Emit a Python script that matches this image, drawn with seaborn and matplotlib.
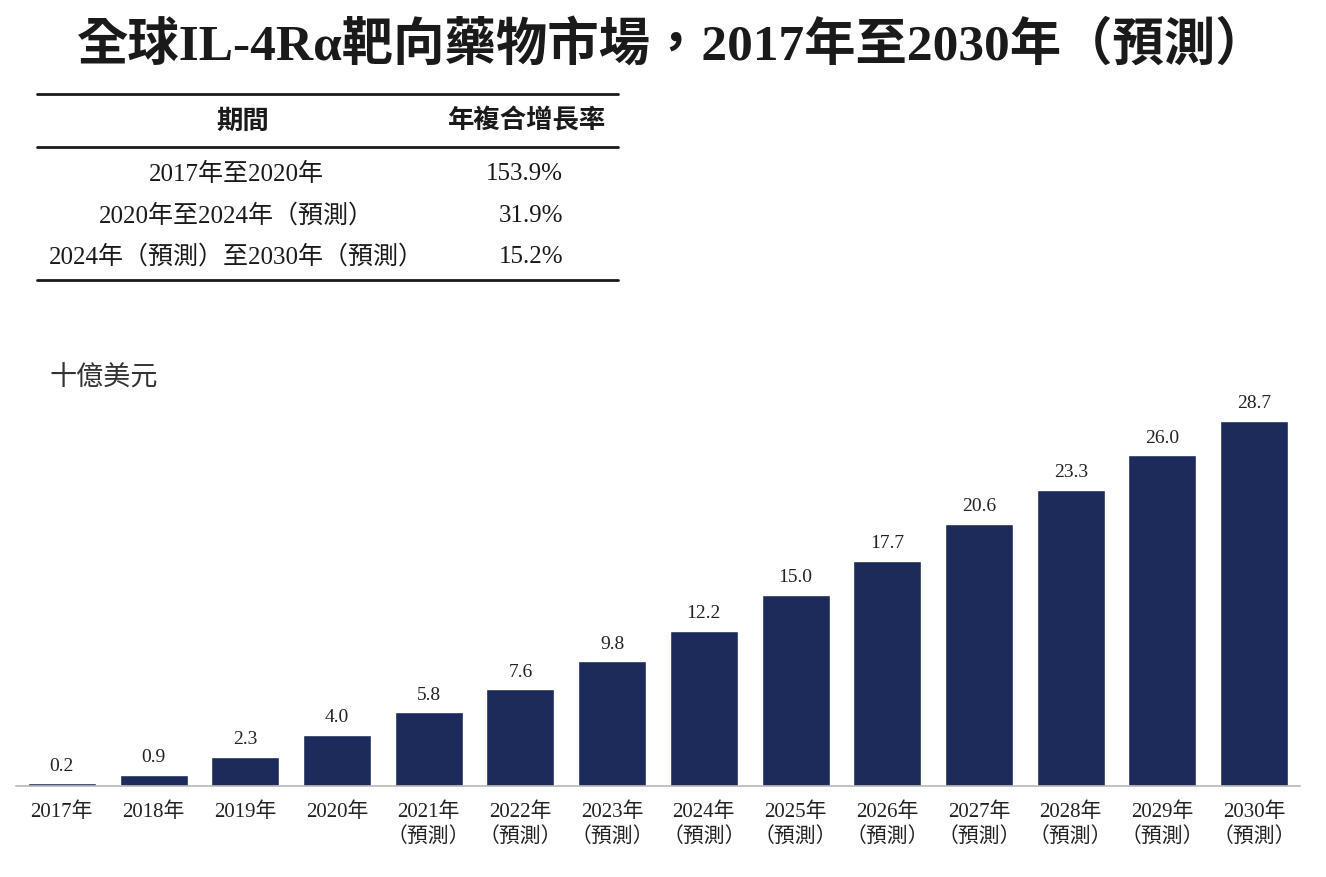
import matplotlib
matplotlib.use("Agg")
import matplotlib.pyplot as plt
import seaborn as sns
import pandas as pd

# --- data ---
years = ["2017年", "2018年", "2019年", "2020年", "2021年", "2022年", "2023年",
         "2024年", "2025年", "2026年", "2027年", "2028年", "2029年", "2030年"]
forecast = [False, False, False, False, True, True, True,
            True, True, True, True, True, True, True]
market_size = [0.2, 0.9, 2.3, 4.0, 5.8, 7.6, 9.8, 12.2, 15.0, 17.7, 20.6, 23.3, 26.0, 28.7]

cagr_periods = ["2017年至2020年", "2020年至2024年（預測）", "2024年（預測）至2030年（預測）"]
cagr_values = ["153.9%", "31.9%", "15.2%"]

title = "全球IL-4Rα靶向藥物市場，2017年至2030年（預測）"
unit_label = "十億美元"
bar_color = "#1c2b5a"

sns.set_theme(style="white")
serif_cjk = ["Liberation Serif", "Noto Sans CJK TC"]
sans_cjk = ["Noto Sans CJK TC", "DejaVu Sans"]
plt.rcParams["font.family"] = serif_cjk

W, H = 1326, 878
fig = plt.figure(figsize=(W / 100, H / 100), dpi=100)
fig.patch.set_facecolor("white")

# --- bar chart ---
tick_labels = [y + ("\n（預測）" if f else "") for y, f in zip(years, forecast)]
df = pd.DataFrame({"year": tick_labels, "value": market_size})

ax = fig.add_axes([16 / W, (H - 787) / H, 1284 / W, 407 / H])
sns.barplot(data=df, x="year", y="value", color=bar_color, width=0.74,
            saturation=1, ax=ax)
ax.set_xlim(-0.5, len(years) - 0.5)
ax.set_ylim(0, 32)
ax.set_xlabel("")
ax.set_ylabel("")
ax.set_yticks([])
for s in ["top", "right", "left"]:
    ax.spines[s].set_visible(False)
ax.spines["bottom"].set_color("#b8b8b8")
ax.spines["bottom"].set_linewidth(1.2)
ax.tick_params(axis="x", length=0, pad=11)
for lbl in ax.get_xticklabels():
    lbl.set_fontsize(15)
    lbl.set_family(serif_cjk)
    lbl.set_color("#222222")
    lbl.set_linespacing(1.35)
ax.bar_label(ax.containers[0], fmt="%.1f", padding=7, fontsize=14,
             color="#222222", family=serif_cjk)

# --- overlay for title, table and unit label (pixel coordinates) ---
ov = fig.add_axes([0, 0, 1, 1], facecolor="none")
ov.set_xlim(0, W)
ov.set_ylim(H, 0)
ov.axis("off")

ov.text(672, 46, title, ha="center", va="center", fontsize=37,
        fontweight="bold", color="#1a1a1a", family=serif_cjk)

for y in [95, 148, 281]:
    ov.plot([37, 618], [y, y], color="#1a1a1a", lw=2.0)

ov.text(243, 121, "期間", ha="center", va="center", fontsize=19,
        fontweight="bold", color="#1a1a1a", family=sans_cjk)
ov.text(527, 121, "年複合增長率", ha="center", va="center", fontsize=19,
        fontweight="bold", color="#1a1a1a", family=sans_cjk)

row_y = [174, 216, 257]
for y, period, val in zip(row_y, cagr_periods, cagr_values):
    ov.text(236, y, period, ha="center", va="center", fontsize=18,
            color="#1a1a1a", family=serif_cjk)
    ov.text(563, y, val, ha="right", va="center", fontsize=18,
            color="#1a1a1a", family=serif_cjk)

ov.text(50, 378, unit_label, ha="left", va="center", fontsize=19.5,
        color="#333333", family=sans_cjk)

fig.savefig("out.png", dpi=100, facecolor="white")
